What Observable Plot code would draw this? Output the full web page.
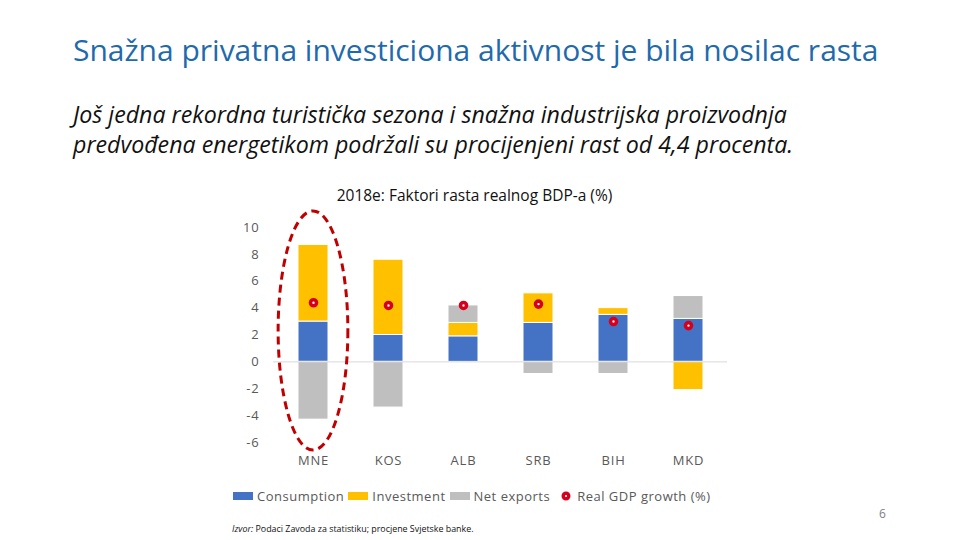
<!DOCTYPE html>
<html>
<head>
<meta charset="utf-8">
<script src="https://cdn.jsdelivr.net/npm/d3@7"></script>
<script src="https://cdn.jsdelivr.net/npm/@observablehq/plot@0.6"></script>
<style>
  body { margin: 0; width: 960px; height: 540px; position: relative; background: #fff; overflow: hidden; font-family: "Open Sans", sans-serif; }
  .abs { position: absolute; white-space: nowrap; }
  #title { left: 73px; top: 29px; font-size: 30px; color: #1f6aad; font-family: "Open Sans", sans-serif; }
  #sub { left: 73px; top: 99px; font-size: 23.2px; line-height: 30px; color: #111; font-style: italic; font-family: "Open Sans", sans-serif; }
  #ctitle { left: 0; width: 949px; text-align: center; top: 184px; font-size: 15.5px; color: #111; }
  #legend { left: 233px; top: 487px; font-size: 13px; color: #595959; letter-spacing: 0.5px; display: flex; align-items: center; }
  #legend .sw { display: inline-block; width: 20px; height: 8px; margin-right: 4px; }
  #legend .it { display: flex; align-items: center; margin-right: 4px; }
  #src { left: 232px; top: 522px; font-size: 8.9px; color: #111; }
  #page { left: 879px; top: 505px; font-size: 12px; color: #7f7f7f; }
  #chart { position: absolute; left: 0; top: 0; }
</style>
</head>
<body>
<div id="title" class="abs">Snažna privatna investiciona aktivnost je bila nosilac rasta</div>
<div id="sub" class="abs">Još jedna rekordna turistička sezona i snažna industrijska proizvodnja<br>predvođena energetikom podržali su procijenjeni rast od 4,4 procenta.</div>
<div id="ctitle" class="abs">2018e: Faktori rasta realnog BDP-a (%)</div>
<div id="chart"></div>
<div id="legend" class="abs"></div>
<div id="src" class="abs"><i>Izvor:</i> Podaci Zavoda za statistiku; procjene Svjetske banke.</div>
<div id="page" class="abs">6</div>
<script>
const countries = ["MNE", "KOS", "ALB", "SRB", "BIH", "MKD"];
const consumption = [3.0, 2.0, 1.9, 2.9, 3.5, 3.2];
const investment = [5.7, 5.6, 1.0, 2.2, 0.5, -2.1];
const netExports = [-4.3, -3.4, 1.3, -0.9, -0.9, 1.7];
const gdpGrowth = [4.4, 4.2, 4.2, 4.3, 3.0, 2.7];
const seriesNames = ["Consumption", "Investment", "Net exports"];
const seriesColors = ["#4472c4", "#ffc000", "#bfbfbf"];
const yTicks = [-6, -4, -2, 0, 2, 4, 6, 8, 10];
const highlight = "MNE";
const ellipseSpan = [11.2, -6.6]; // vertical extent of the highlight ellipse (y units)

const seriesValues = [consumption, investment, netExports];
const stacked = [];
seriesNames.forEach((s, si) => {
  countries.forEach((c, ci) => stacked.push({country: c, series: s, value: seriesValues[si][ci]}));
});
const growth = countries.map((c, i) => ({country: c, value: gdpGrowth[i]}));

const W = 960, H = 540;
const plot = Plot.plot({
  width: W, height: H,
  marginLeft: 273, marginRight: 233, marginTop: 227, marginBottom: 98,
  style: {fontFamily: "'Open Sans', sans-serif", fontSize: "13px", color: "#595959", background: "transparent", letterSpacing: "0.8px"},
  x: {domain: countries, paddingInner: 0.6, paddingOuter: 0.3, label: null, tickSize: 0, tickPadding: 13},
  y: {domain: [-6, 10], ticks: yTicks, label: null, tickSize: 0, tickPadding: 14, tickFormat: d => String(d)},
  color: {domain: seriesNames, range: seriesColors},
  marks: [
    Plot.barY(stacked, {x: "country", y: "value", fill: "series", stroke: "white", strokeWidth: 1, order: seriesNames}),
    Plot.ruleY([0], {stroke: "#d9d9d9", strokeWidth: 1}),
    Plot.dot(growth, {x: "country", y: "value", r: 3, stroke: "#d6001c", strokeWidth: 3.6, fill: "white"})
  ]
});
document.getElementById("chart").appendChild(plot);

// Highlight ellipse around MNE
const xs = plot.scale("x"), ys = plot.scale("y");
const cx = xs.apply(highlight) + xs.bandwidth / 2;
const yTop = ys.apply(ellipseSpan[0]), yBot = ys.apply(ellipseSpan[1]);
d3.select(plot).append("ellipse")
  .attr("cx", cx).attr("cy", (yTop + yBot) / 2)
  .attr("rx", xs.step * 0.465).attr("ry", (yBot - yTop) / 2)
  .attr("fill", "none").attr("stroke", "#c00000").attr("stroke-width", 3)
  .attr("stroke-dasharray", "8 5");

// Legend
const lg = d3.select("#legend");
seriesNames.forEach((s, i) => {
  const it = lg.append("span").attr("class", "it");
  it.append("span").attr("class", "sw").style("background", seriesColors[i]);
  it.append("span").text(s);
});
const it = lg.append("span").attr("class", "it").style("margin-left", "6px");
it.append("svg").attr("width", 12).attr("height", 12).style("margin-right", "5px")
  .append("circle").attr("cx", 6).attr("cy", 6).attr("r", 2.8).attr("fill", "white").attr("stroke", "#d6001c").attr("stroke-width", 3.4);
it.append("span").text("Real GDP growth (%)");
</script>
</body>
</html>
